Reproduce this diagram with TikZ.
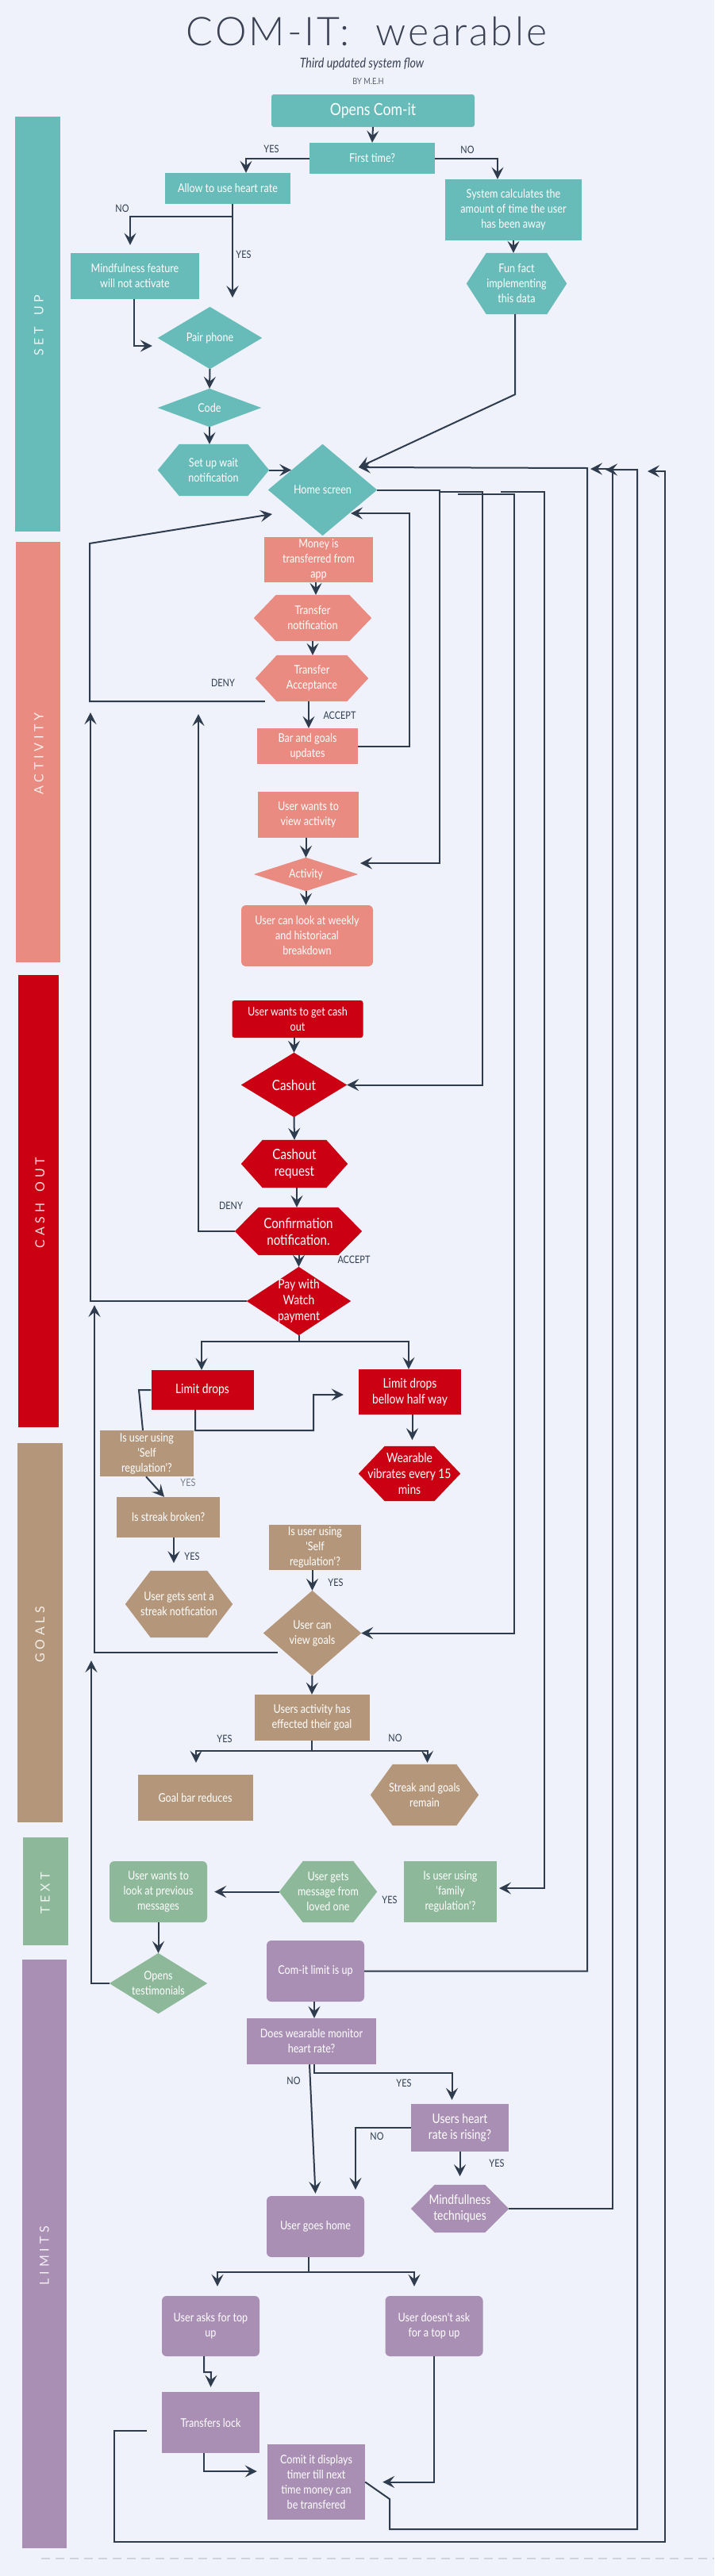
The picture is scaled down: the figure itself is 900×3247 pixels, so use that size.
\documentclass[tikz,border=0pt]{standalone}
\usepackage{fontspec}
\setmainfont{Lato}
\newfontfamily\nodefont{Lato}[FakeStretch=0.84]
\newfontfamily\titlefont{Lato Light}[LetterSpace=6]
\newfontfamily\lanefont{Lato}[LetterSpace=30]
\usetikzlibrary{arrows.meta}
\pgfdeclarelayer{bottom}
\pgfdeclarelayer{background}
\pgfsetlayers{bottom,background,main}
\definecolor{bgc}{HTML}{EFF2FB}
\definecolor{teal1}{HTML}{67BBB8}
\definecolor{salm}{HTML}{E98B80}
\definecolor{redc}{HTML}{CC0013}
\definecolor{tanc}{HTML}{B4977A}
\definecolor{grnc}{HTML}{8DB99A}
\definecolor{purc}{HTML}{A98FB4}
\definecolor{linec}{HTML}{2E3C4D}
\definecolor{titlec}{HTML}{3A4152}
\definecolor{dashc}{HTML}{CFD2DA}
\newcommand\fNorm{\nodefont\fontsize{15}{19}\selectfont}
\newcommand\fMid{\nodefont\fontsize{16.5}{20}\selectfont}
\newcommand\fBig{\nodefont\fontsize{18}{21}\selectfont}
\newcommand\fOpen{\nodefont\fontsize{21}{24}\selectfont}
\newcommand\fLab{\nodefont\fontsize{13}{15}\selectfont}
\newcommand\fLane{\lanefont\fontsize{16}{16}\selectfont}
\tikzset{
  txt/.style={align=center, text=white, inner sep=0pt, font=\fNorm},
  ln/.style={draw=linec, line width=2pt},
  arr/.style={ln, -{Stealth[length=15pt,width=15pt,inset=6pt]}},
  lab/.style={text=linec, font=\fLab, inner sep=0pt},
  lanebar/.style={inner sep=0pt},
  lanetxt/.style={rotate=90, text=white, text opacity=0.85, font=\fLane, inner sep=0pt},
}
\newcommand\boxnode[8][]{\node[txt, fill=#7, minimum width=#5pt, minimum height=#6pt, #1] (#2) at (#3,#4) {#8};}
\newcommand\hexnode[9][]{%
  \node[txt, minimum width=#5pt, minimum height=#6pt, #1] (#2) at (#3,#4) {#9};
  \begin{pgfonlayer}{background}
  \fill[#8] (#2.west) -- ([xshift=#7pt]#2.north west) -- ([xshift=-#7pt]#2.north east) -- (#2.east) -- ([xshift=-#7pt]#2.south east) -- ([xshift=#7pt]#2.south west) -- cycle;
  \end{pgfonlayer}}
\newcommand\diamnode[8][]{%
  \node[txt, minimum width=#5pt, minimum height=#6pt, #1] (#2) at (#3,#4) {#8};
  \begin{pgfonlayer}{background}
  \fill[#7] (#2.west) -- (#2.north) -- (#2.east) -- (#2.south) -- cycle;
  \end{pgfonlayer}}
\begin{document}
\begin{tikzpicture}[x=1pt,y=-1pt]
\begin{pgfonlayer}{bottom}
\fill[bgc] (0,0) rectangle (900,3247);
\end{pgfonlayer}
\useasboundingbox (0,0) rectangle (900,3247);

% title
\node[font=\titlefont\fontsize{50}{50}\selectfont, text=titlec, inner sep=0pt] (title) at (462,40) {COM-IT:\ \ wearable};
\node[font=\nodefont\itshape\fontsize{17}{20}\selectfont, text=titlec, inner sep=0pt] (sub) at (456,81) {Third updated system flow};
\node[font=\nodefont\fontsize{11}{12}\selectfont, text=titlec!85, inner sep=0pt] (by) at (464,103) {BY M.E.H};

% lanes
\node[lanebar, fill=teal1, minimum width=57pt, minimum height=523pt] (barsetup) at (47.5,408.5) {};
\node[lanetxt] (lsetup) at (49,410) {SET\hspace{14pt}UP};
\node[lanebar, fill=salm, minimum width=56pt, minimum height=530pt] (baract) at (48,948) {};
\node[lanetxt] (lact) at (49,950) {ACTIVITY};
\node[lanebar, fill=redc, minimum width=50.5pt, minimum height=570pt] (barcash) at (48.25,1514) {};
\node[lanetxt] (lcash) at (50.5,1516) {CASH\hspace{14pt}OUT};
\node[lanebar, fill=tanc, minimum width=57pt, minimum height=478pt] (bargoals) at (50.5,2058) {};
\node[lanetxt] (lgoals) at (50.5,2060) {GOALS};
\node[lanebar, fill=grnc, minimum width=56.5pt, minimum height=136pt] (bartext) at (57.25,2384) {};
\node[lanetxt] (ltext) at (57,2386) {TEXT};
\node[lanebar, fill=purc, minimum width=56.5pt, minimum height=742pt] (barlim) at (55.75,2841) {};
\node[lanetxt] (llim) at (56,2843) {LIMITS};

% set up
\boxnode[rounded corners=3pt, font=\fOpen]{open}{470}{139.5}{256}{41}{teal1}{Opens Com-it}
\boxnode{first}{469}{199.5}{158}{39}{teal1}{First time?}
\boxnode{allow}{287}{237.5}{158}{39}{teal1}{Allow to use heart rate}
\boxnode{syscalc}{647}{264.5}{172}{77}{teal1}{System calculates the\\amount of time the user\\has been away}
\boxnode{mindf}{170}{348}{162}{58}{teal1}{Mindfulness feature\\will not activate}
\hexnode{funfact}{651}{357.5}{126}{77}{25}{teal1}{Fun fact\\implementing\\this data}
\diamnode{pair}{264.5}{426}{131}{78}{teal1}{Pair phone}
\diamnode{code}{264}{514}{130}{48}{teal1}{Code}
\hexnode{setup}{269}{592.5}{140}{65}{27}{teal1}{Set up wait\\notification}
\diamnode{home}{406.5}{617.5}{137}{115}{teal1}{Home screen}

% activity
\boxnode{money}{401.5}{705.5}{137}{57}{salm}{Money is\\transferred from\\app}
\hexnode{tnotif}{394}{779}{148}{58}{28}{salm}{Transfer\\notification}
\hexnode{taccept}{393}{855}{142}{58}{27}{salm}{Transfer\\Acceptance}
\boxnode{bar}{387.5}{940.5}{127}{45}{salm}{Bar and goals\\updates}
\boxnode{viewact}{388.5}{1027}{127}{58}{salm}{User wants to\\view activity}
\diamnode{activity}{385.5}{1102}{131}{42}{salm}{Activity}
\boxnode[rounded corners=6pt]{weekly}{387}{1179.5}{166}{77}{salm}{User can look at weekly\\and historiacal\\breakdown}

% cash out
\boxnode[rounded corners=3pt]{cashwant}{375}{1284.5}{165}{47}{redc}{User wants to get cash\\out}
\diamnode[font=\fBig]{cashout}{370.5}{1367.5}{133}{81}{redc}{Cashout}
\hexnode[font=\fBig]{cashreq}{371}{1467}{134}{60}{27}{redc}{Cashout\\request}
\hexnode[font=\fBig]{confirm}{376}{1552}{160}{60}{30}{redc}{Confirmation\\notification.}
\diamnode[font=\fMid]{pay}{376.5}{1640}{131}{86}{redc}{Pay with\\Watch\\payment}
\boxnode[font=\fMid]{limit}{255}{1752}{129}{50}{redc}{Limit drops}
\boxnode[font=\fMid]{limithalf}{516.5}{1754.5}{129}{57}{redc}{Limit drops\\bellow half way}
\hexnode[font=\fMid]{vibrate}{516}{1857.5}{128}{69}{33}{redc}{Wearable\\vibrates every 15\\mins}

% goals
\boxnode{selfreg1}{185}{1832}{118}{58}{tanc}{Is user using\\'Self\\regulation'?}
\boxnode{streak}{212}{1912.5}{130}{51}{tanc}{Is streak broken?}
\hexnode{streaknot}{225.5}{2022}{135}{84}{32}{tanc}{User gets sent a\\streak notfication}
\boxnode{selfreg2}{397}{1950.5}{116}{57}{tanc}{Is user using\\'Self\\regulation'?}
\diamnode{viewgoals}{393.5}{2058.5}{123}{107}{tanc}{User can\\view goals}
\boxnode{effected}{393}{2165}{145}{58}{tanc}{Users activity has\\effected their goal}
\boxnode{goalbar}{246}{2266}{145}{58}{tanc}{Goal bar reduces}
\hexnode{remain}{535}{2262.5}{136}{77}{28}{tanc}{Streak and goals\\remain}

% text
\boxnode{family}{567.5}{2384.5}{117}{77}{grnc}{Is user using\\'family\\regulation'?}
\hexnode{message}{413.5}{2384.5}{123}{77}{30}{grnc}{User gets\\message from\\loved one}
\boxnode[rounded corners=6pt]{lookprev}{199.5}{2384.5}{123}{77}{grnc}{User wants to\\look at previous\\messages}
\diamnode{testim}{199.5}{2500}{123}{76}{grnc}{Opens\\testimonials}

% limits
\boxnode[rounded corners=6pt]{limitup}{397.5}{2484.5}{123}{77}{purc}{Com-it limit is up}
\boxnode{monitor}{392.5}{2573}{163}{58}{purc}{Does wearable monitor\\heart rate?}
\boxnode[font=\fMid]{rising}{579.5}{2682}{123}{60}{purc}{Users heart\\rate is rising?}
\hexnode[font=\fMid]{mindtech}{579.5}{2784}{123}{60}{30}{purc}{Mindfullness\\techniques}
\boxnode[rounded corners=6pt]{gohome}{397.5}{2806.5}{123}{77}{purc}{User goes home}
\boxnode[rounded corners=6pt]{asktop}{265.5}{2932}{123}{76}{purc}{User asks for top\\up}
\boxnode[rounded corners=6pt]{noask}{547}{2932}{123}{76}{purc}{User doesn't ask\\for a top up}
\boxnode{lock}{265.5}{3053.5}{123}{77}{purc}{Transfers lock}
\boxnode{timer}{398.5}{3128.5}{123}{95}{purc}{Comit it displays\\timer till next\\time money can\\be transfered}

% labels
\node[lab] (y1) at (342,188) {YES};
\node[lab] (n1) at (589,189) {NO};
\node[lab] (n2) at (154,263) {NO};
\node[lab] (y2) at (307,321) {YES};
\node[lab] (d1) at (281,861) {DENY};
\node[lab] (a1) at (428,902) {ACCEPT};
\node[lab] (d2) at (291,1520) {DENY};
\node[lab] (a2) at (446,1588) {ACCEPT};
\node[lab, text=linec!65] (y3) at (237,1869) {YES};
\node[lab] (y4) at (242,1962) {YES};
\node[lab] (y5) at (423,1995) {YES};
\node[lab] (y6) at (283,2192) {YES};
\node[lab] (n3) at (498,2191) {NO};
\node[lab] (y7) at (491,2395) {YES};
\node[lab] (n4) at (370,2623) {NO};
\node[lab] (y8) at (509,2626) {YES};
\node[lab] (n5) at (475,2693) {NO};
\node[lab] (y9) at (626,2727) {YES};

% coordinates
\coordinate (hin1) at (452,589);
\coordinate (vbs) at (554,619.5);
\coordinate (vcs) at (577,623);
\coordinate (vds) at (631,620);

% set up connectors
\draw[arr] (open.south) -- (first.north);
\draw[arr] (first.west) -| ([xshift=23pt]allow.north);
\draw[arr] (first.east) -| ([xshift=-20pt]syscalc.north);
\draw[arr] ([xshift=6pt]allow.south) -- ++(0,16) -| ([xshift=-6pt,yshift=10pt]mindf.north);
\draw[arr] ([xshift=6pt]allow.south) -- ++(0,118);
\draw[arr] ([xshift=-1pt]mindf.south) |- ([xshift=-7pt,yshift=-10pt]pair.west);
\draw[arr] (pair.south) -- (code.north);
\draw[arr] (code.south) -- (code.south |- setup.north);
\draw[arr] (syscalc.south) -- (syscalc.south |- funfact.north);
\draw[arr] ([xshift=-2pt]funfact.south) -- ++(0,101) -- (hin1);
\draw[arr] (setup.east) -- ++(28,0);

% returns to home screen
\draw[arr] (limitup.east) -- (740,2484.5) -- (740,590) -- (hin1);
\draw[arr] (mindtech.east) -- (772,2784) -- (772,591) -- (744,591);
\draw[arr] (timer.east) -- (491,3150) -- (491,3188) -- (803,3188) -- (803,592) -- (763,592);
\draw[arr] ([xshift=-19pt,yshift=-10pt]lock.west) -- (143.5,3063.5) -- (143.5,3204) -- (838,3204) -- (838,594) -- (816,594);

% from home screen
\draw[arr] (home.east) -- (554,617.5) -- (554,1088) -- (454,1088);
\draw[arr] (vbs) -- (608,619.5) -- (608,1367.5) -- (cashout.east);
\draw[arr] (vcs) -- (647.5,623) -- (647.5,2058.5) -- (viewgoals.east);
\draw[arr] (vds) -- (686,620) -- (686,2380) -- (629,2380);

% activity
\draw[arr] ([xshift=12pt]taccept.south west) -- (113,884) -- (113,685) -- (343,648);
\draw[arr] (bar.east) -- (515.5,940.5) -- (515.5,647) -- (442,647);
\draw[arr] ([xshift=-3.5pt]money.south) -- ([xshift=-3.5pt]money.south |- tnotif.north);
\draw[arr] (tnotif.south) -- (tnotif.south |- taccept.north);
\draw[arr] ([xshift=-4pt]taccept.south) -- ([xshift=-4pt]taccept.south |- bar.north);
\draw[arr] ([xshift=-3pt]viewact.south) -- ([xshift=-3pt]viewact.south |- activity.north);
\draw[arr] (activity.south) -- (activity.south |- weekly.north);

% cash out
\draw[arr] (cashout.north |- cashwant.south) -- (cashout.north);
\draw[arr] (cashout.south) -- (cashreq.north);
\draw[arr] ([xshift=3pt]cashreq.south) -- ([xshift=3pt]cashreq.south |- confirm.north);
\draw[arr] (pay.north |- confirm.south) -- (pay.north);
\draw[arr] (confirm.west) -- (250,1552) -- (250,900);
\draw[arr] (pay.west) -- (114,1640) -- (114,898);
\draw[arr] (pay.south) -- ++(0,8) -| ([xshift=-1pt]limit.north);
\draw[arr] (pay.south) -- ++(0,8) -| ([xshift=-1.5pt]limithalf.north);
\draw[arr] ([xshift=-9pt]limit.south) -- ++(0,26) -- (395,1803) -- (395,1758) -- ([xshift=-19pt,yshift=-3.5pt]limithalf.west);
\draw[ln] (limit.west) -- (175,1752) -- ([xshift=-5pt]selfreg1.north);
\draw[arr] ([xshift=3pt]limithalf.south) -- ++(0,32);

% goals
\draw[arr] ([xshift=-1pt]selfreg1.south) -- ([xshift=-5pt]streak.north);
\draw[arr] ([xshift=7pt]streak.south) -- ++(0,32);
\draw[arr] (viewgoals.north |- selfreg2.south) -- (viewgoals.north);
\draw[arr] ([xshift=18pt,yshift=-24.5pt]viewgoals.west) -- (119,2083) -- (119,1645);
\draw[arr] (viewgoals.south) -- (effected.north);
\draw[arr] (effected.south) -- ++(0,13) -| ([xshift=1pt,yshift=15pt]goalbar.north);
\draw[arr] (effected.south) -- ++(0,13) -| ([xshift=3.5pt,yshift=2pt]remain.north);

% text
\draw[arr] (message.west) -- ([xshift=9pt]lookprev.east);
\draw[arr] (lookprev.south) -- (testim.north);
\draw[arr] (testim.west) -- (115,2500) -- (115,2093);

% limits
\draw[arr] ([xshift=-1.5pt]limitup.south) -- ([xshift=-1.5pt]limitup.south |- monitor.north);
\draw[arr] ([xshift=3.5pt]monitor.south) -- ++(0,11) -| ([xshift=-10pt,yshift=5pt]rising.north);
\draw[arr] ([xshift=-2.5pt]monitor.south) -- ([yshift=3pt]gohome.north);
\draw[arr] (rising.west) -- (448,2682) -- (448,2760);
\draw[arr] (rising.south) -- ++(0,31);
\draw[arr] ([xshift=-8.5pt]gohome.south) -- ++(0,19) -| ([xshift=8.5pt,yshift=12pt]asktop.north);
\draw[arr] ([xshift=-8.5pt]gohome.south) -- ++(0,19) -| ([xshift=-25pt,yshift=12pt]noask.north);
\draw[arr] ([xshift=-8.5pt]asktop.south) -- ++(0,20) -- ++(9,0) -- ([yshift=6pt]lock.north);
\draw[arr] ([xshift=-8.5pt]lock.south) |- ([xshift=-13pt,yshift=13.5pt]timer.west);
\draw[arr] (noask.south) |- ([xshift=22pt]timer.east);

% bottom dashed rule
\draw[draw=dashc, line width=2.5pt, dash pattern=on 11pt off 7pt] (52,3225) -- (900,3225);
\end{tikzpicture}
\end{document}
